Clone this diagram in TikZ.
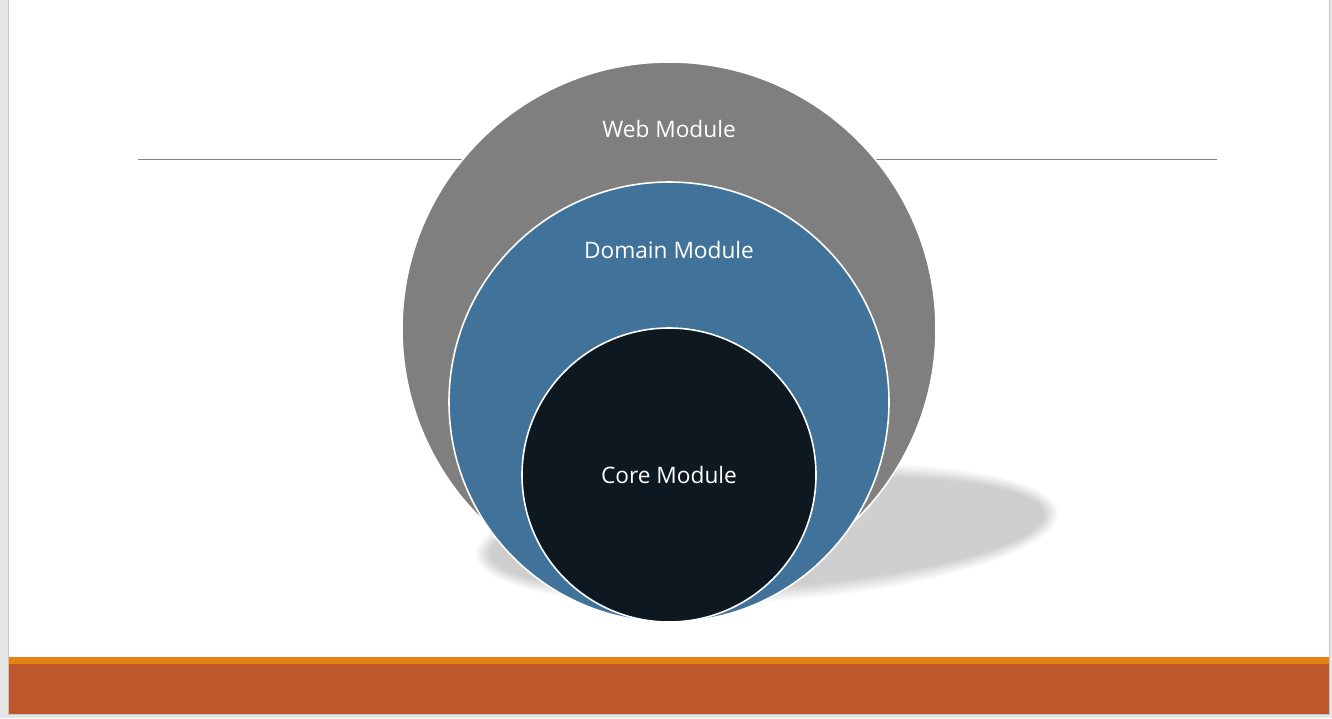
\documentclass[tikz,border=0pt]{standalone}
\usepackage{fontspec}
\setmainfont{Open Sans}
\definecolor{pagegray}{HTML}{E6E6E6}
\definecolor{edgegray}{HTML}{C6C6C6}
\definecolor{webgray}{HTML}{7F7F7F}
\definecolor{domblue}{HTML}{41739A}
\definecolor{coredark}{HTML}{0E1821}
\definecolor{barorange}{HTML}{E48312}
\definecolor{barrust}{HTML}{BD582C}
\definecolor{rulegray}{HTML}{808080}
\tikzset{
  ring/.style={circle, draw=white, line width=1.2, inner sep=0pt},
  lbl/.style={text=white, font=\fontsize{17}{20}\selectfont, inner sep=0pt},
}
\begin{document}
\begin{tikzpicture}[x=0.75pt,y=-0.75pt]
\useasboundingbox (0,0) rectangle (1332,718);
\fill[pagegray] (0,0) rectangle (1332,718);
\fill[white] (9,0) rectangle (1329,714);
\draw[edgegray, line width=0.75] (8.5,0) -- (8.5,714.5) -- (1329.5,714.5) -- (1329.5,0);
\fill[barorange] (9,657) rectangle (1329,664);
\fill[barrust] (9,664) rectangle (1329,714);
% horizontal rule
\coordinate (rl) at (138,159);
\coordinate (rr) at (1217,159);
\draw[rulegray, line width=0.75] (rl) -- (rr);
% shadow
\begin{scope}[shift={(767,534)}, rotate=4.2]
\foreach \i in {0,...,11} {
  \fill[black, opacity=0.017] (0,0) ellipse ({292-1.3*\i} and {68-1.3*\i});
}
\end{scope}
% circles
\node[ring, fill=webgray, minimum size=400.5pt] (web) at (669,329) {};
\node[ring, fill=domblue, minimum size=330pt] (dom) at (669,402) {};
\node[ring, fill=coredark, minimum size=220.5pt] (core) at (669,475) {};
\node[lbl] (webl) at (669,129) {Web Module};
\node[lbl] (doml) at (669,250) {Domain Module};
\node[lbl] (corel) at (669,475) {Core Module};
\end{tikzpicture}
\end{document}
